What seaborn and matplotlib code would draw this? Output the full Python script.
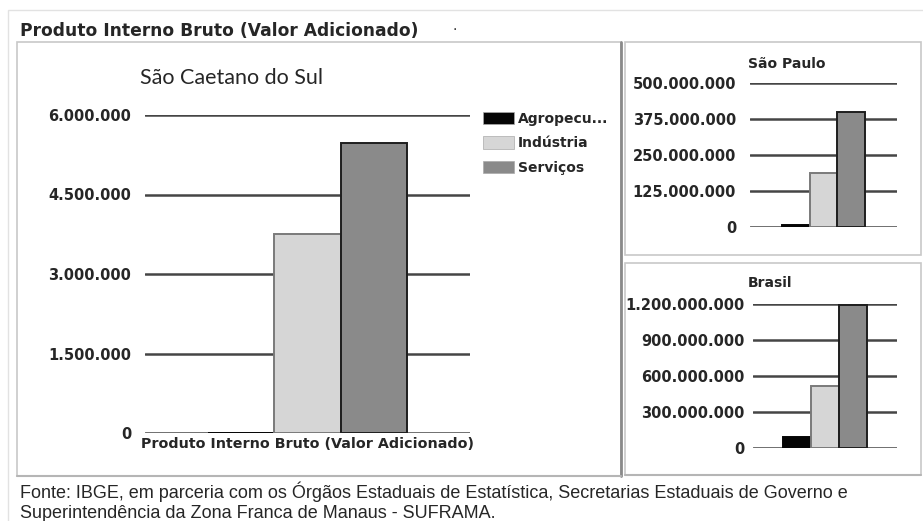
import pandas as pd
import matplotlib
matplotlib.use('Agg')
import matplotlib.pyplot as plt
import matplotlib.ticker as mticker
from matplotlib.patches import Rectangle
from matplotlib.lines import Line2D
import seaborn as sns

# dados
setores = ['Agropecuária', 'Indústria', 'Serviços']
legenda = ['Agropecu...', 'Indústria', 'Serviços']
sao_caetano = [1000, 3750000, 5480000]
sao_paulo = [7000000, 187000000, 400000000]
brasil = [92000000, 517000000, 1195000000]
categoria = 'Produto Interno Bruto (Valor Adicionado)'

ticks_sc = [0, 1500000, 3000000, 4500000, 6000000]
ticks_sp = [0, 125000000, 250000000, 375000000, 500000000]
ticks_br = [0, 300000000, 600000000, 900000000, 1200000000]

cores = ['#050505', '#d6d6d6', '#8a8a8a']
bordas = ['#050505', '#7a7a7a', '#1e1e1e']

sns.set_style('white')
plt.rcParams['font.family'] = ['DejaVu Sans']

W, H = 923, 521
fig = plt.figure(figsize=(W / 100, H / 100), dpi=100)


def box(x0, y0, x1, y1):
    # caixa em pixels (origem no topo)
    return [x0 / W, 1 - y1 / H, (x1 - x0) / W, (y1 - y0) / H]


def moldura(x0, y0, x1, y1, cor='#c8c8c8', lw=1.2):
    b = box(x0, y0, x1, y1)
    fig.patches.append(Rectangle((b[0], b[1]), b[2], b[3], transform=fig.transFigure,
                                 fill=False, edgecolor=cor, linewidth=lw))


def linha(x0, y0, x1, y1, cor, lw):
    fig.lines.append(Line2D([x0 / W, x1 / W], [1 - y0 / H, 1 - y1 / H],
                            transform=fig.transFigure, color=cor, linewidth=lw))


def fmt(v, pos):
    return '{:,.0f}'.format(v).replace(',', '.')


def painel(ax, valores, ticks, largura, tam):
    df = pd.DataFrame({'cat': [categoria] * 3, 'setor': setores, 'valor': valores})
    sns.barplot(data=df, x='cat', y='valor', hue='setor', hue_order=setores,
                palette=cores, width=largura, ax=ax, legend=False,
                edgecolor='#3a3a3a', linewidth=1.4, zorder=3)
    for p, c in zip(ax.patches, bordas):
        p.set_edgecolor(c)
    ax.set_ylim(0, ticks[-1])
    ax.set_yticks(ticks)
    ax.yaxis.set_major_formatter(mticker.FuncFormatter(fmt))
    ax.grid(axis='y', color='#454545', linewidth=1.8, zorder=0)
    ax.set_axisbelow(True)
    for s in ax.spines.values():
        s.set_visible(False)
    ax.set_xlabel('')
    ax.set_ylabel('')
    ax.tick_params(axis='y', length=0, pad=10, labelsize=tam)
    for t in ax.get_yticklabels():
        t.set_fontweight('bold')


# molduras
moldura(8, 10, 930, 530, '#e2e2e2', 1)
moldura(17, 42, 621, 476)
moldura(625, 42, 921, 255)
moldura(625, 263, 921, 475)
linha(621, 42, 621, 476, '#8a8a8a', 2)
linha(17, 476, 621, 476, '#b5b5b5', 1.5)
linha(625, 475, 921, 475, '#b5b5b5', 1.5)

fig.text(20 / W, 1 - 31 / H, 'Produto Interno Bruto (Valor Adicionado)', fontsize=12.3,
         fontweight='bold', ha='left', va='center')
fig.text(455 / W, 1 - 30 / H, '·', fontsize=10, ha='center', va='center')

ax1 = fig.add_axes(box(145, 115, 470, 433))
painel(ax1, sao_caetano, ticks_sc, 0.61, 10.5)
ax1.tick_params(axis='x', length=0, pad=3)
for t in ax1.get_xticklabels():
    t.set_fontweight('bold')
    t.set_fontsize(10.3)
fig.text(232 / W, 1 - 78 / H, 'São Caetano do Sul', fontsize=15.5, ha='center', va='center',
         family=['Lato', 'DejaVu Sans'])

ax2 = fig.add_axes(box(750, 83, 897, 227))
painel(ax2, sao_paulo, ticks_sp, 0.57, 10.5)
ax2.set_xticks([])
fig.text(787 / W, 1 - 64 / H, 'São Paulo', fontsize=10, fontweight='bold',
         ha='center', va='center')

ax3 = fig.add_axes(box(753, 304, 897, 448))
painel(ax3, brasil, ticks_br, 0.58, 10.5)
ax3.tick_params(axis='y', pad=6)
ax3.set_xticks([])
fig.text(770 / W, 1 - 283 / H, 'Brasil', fontsize=10, fontweight='bold',
         ha='center', va='center')

handles = [Rectangle((0, 0), 1, 1, facecolor=c, edgecolor='#aaaaaa', linewidth=0.5) for c in cores]
fig.legend(handles, legenda, loc='upper left', bbox_to_anchor=(483 / W, 1 - 112 / H),
           frameon=False, handlelength=2.2, handleheight=1.0, borderpad=0, borderaxespad=0,
           handletextpad=0.3, labelspacing=0.75, prop={'weight': 'bold', 'size': 10})

rodape = ('Fonte: IBGE, em parceria com os Órgãos Estaduais de Estatística, Secretarias Estaduais de Governo e\n'
          'Superintendência da Zona Franca de Manaus - SUFRAMA.')
fig.text(20 / W, 1 - 502 / H, rodape, fontsize=13.0, ha='left', va='center', linespacing=1.2,
         family=['Liberation Sans', 'DejaVu Sans'])

fig.savefig('out.png', dpi=100, facecolor='white')
